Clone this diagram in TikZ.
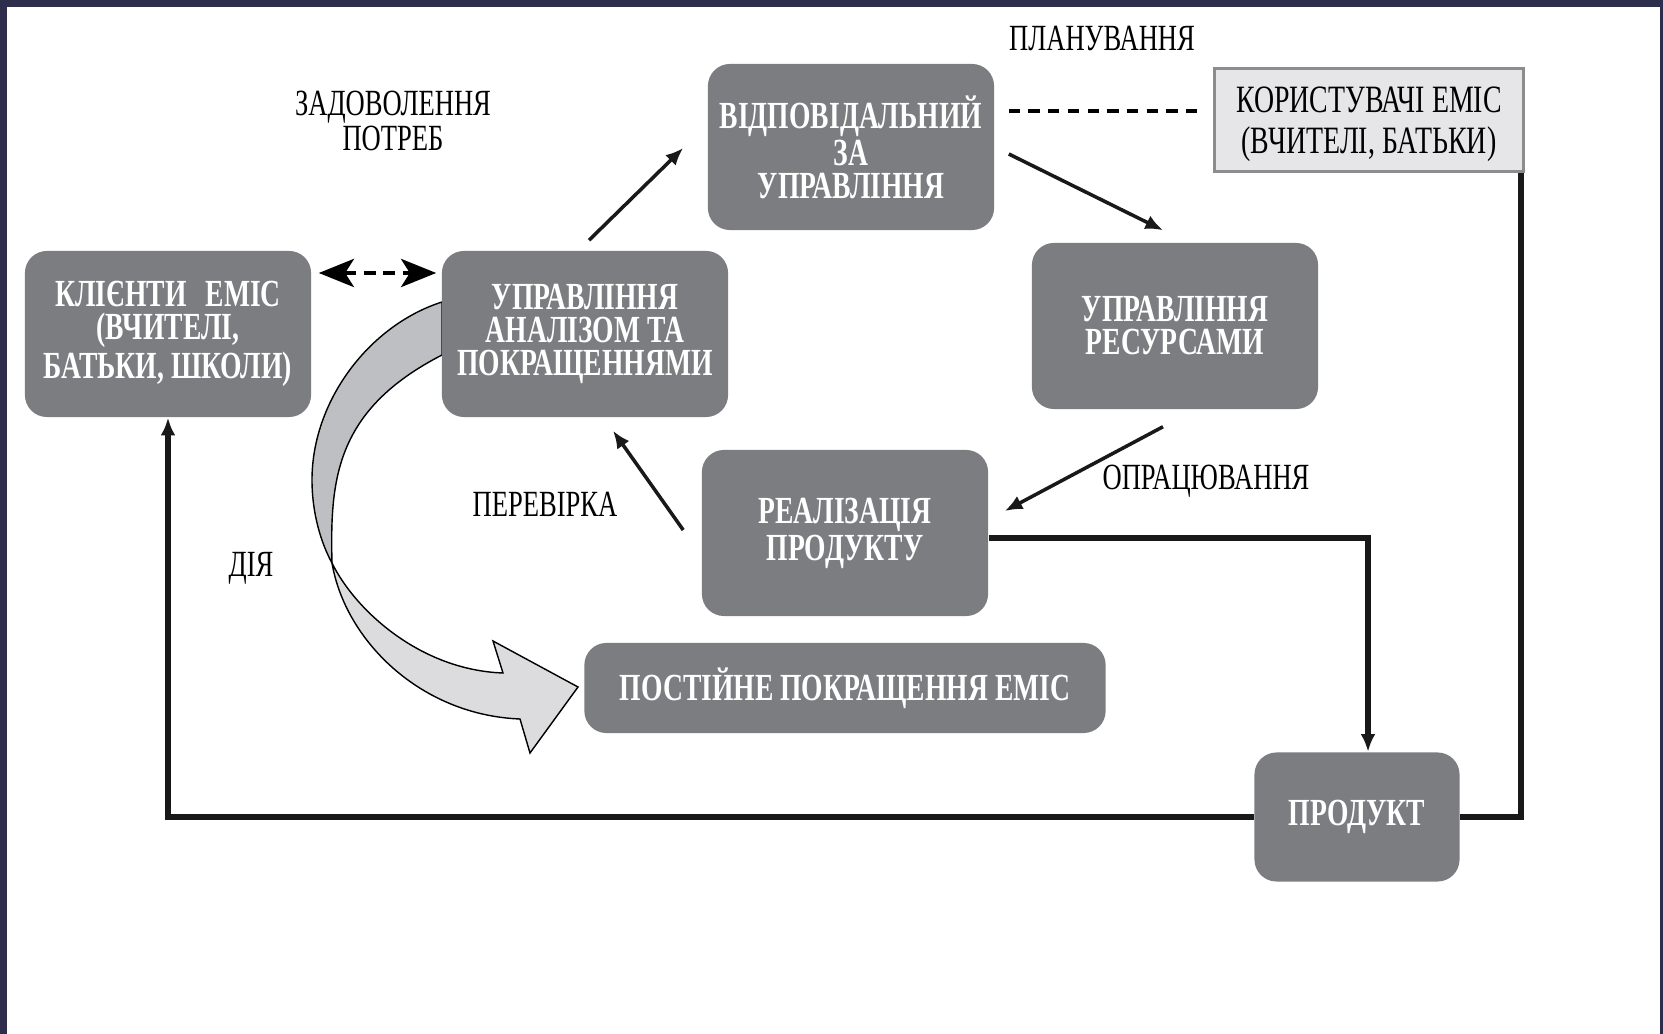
\documentclass[tikz,border=0pt]{standalone}
\usepackage{fontspec}
\setmainfont{Liberation Serif}[FakeStretch=0.72]
\usetikzlibrary{arrows.meta}
\definecolor{boxgray}{HTML}{7B7D80}
\definecolor{framenavy}{HTML}{2E2D4C}
\definecolor{bandback}{HTML}{BEBFC2}
\definecolor{bandfront}{HTML}{DCDCDE}
\definecolor{usergray}{HTML}{E6E6E8}
\begin{document}
\begin{tikzpicture}[x=0.01cm,y=-0.01cm,>={Latex[length=5pt,width=4.2pt]},
  blk/.style={rectangle,rounded corners=0.22cm,fill=boxgray,text=white,align=center,inner sep=0pt,
    font=\bfseries\fontsize{10.9}{9.4}\selectfont,minimum width=2.86cm,minimum height=1.66cm},
  lbl/.style={align=center,font=\fontsize{10.5}{10.2}\selectfont},
  link/.style={line width=1pt,black!90},
  feed/.style={line width=1.5pt,black!90}]
\fill[framenavy] (0,0) rectangle (1663,1034);
\fill[white] (7,7) rectangle (1660,1034);
\useasboundingbox (0,0) rectangle (1663,1034);

% curved arrow behind the boxes
\filldraw[fill=bandback,line width=0.4pt]
(442,302) .. controls (370,325) and (312,400) .. (312,480)
          .. controls (312,515) and (322,545) .. (332,563)
          .. controls (330,480) and (335,410) .. (442,355) -- cycle;
\filldraw[fill=bandfront,line width=0.4pt]
(332,563) .. controls (355,610) and (420,670) .. (503,673)
 -- (493,641) -- (578,687) -- (530,753) -- (520,719)
          .. controls (420,715) and (345,640) .. (332,563) -- cycle;

\path
(168,334)  node[blk] (client) {КЛІЄНТИ\enspace ЕМІС\\(ВЧИТЕЛІ,\\БАТЬКИ, ШКОЛИ)}
(585,334)  node[blk] (anal) {УПРАВЛІННЯ\\АНАЛІЗОМ ТА\\ПОКРАЩЕННЯМИ}
(851,147)  node[blk] (resp) {ВІДПОВІДАЛЬНИЙ\\ЗА\\УПРАВЛІННЯ}
(1175,326) node[blk] (res) {УПРАВЛІННЯ\\РЕСУРСАМИ}
(845,533)  node[blk] (real) {РЕАЛІЗАЦІЯ\\ПРОДУКТУ}
(845,688)  node[blk,minimum width=5.21cm,minimum height=0.9cm] (impr) {ПОСТІЙНЕ ПОКРАЩЕННЯ ЕМІС}
(1357,817) node[blk,minimum width=2.05cm,minimum height=1.29cm] (prod) {ПРОДУКТ}
(1369,120) node[draw=black!45,line width=0.8pt,fill=usergray,align=center,inner sep=0pt,
  minimum width=3.09cm,minimum height=1.03cm,font=\fontsize{11}{11.6}\selectfont,
  text depth=0pt] (users)
  {КОРИСТУВАЧІ ЕМІС\\(ВЧИТЕЛІ, БАТЬКИ)}

(393,121)  node[lbl] (lneed) {ЗАДОВОЛЕННЯ\\ПОТРЕБ}
(1102,39)  node[lbl] (lplan) {ПЛАНУВАННЯ}
(545,504)  node[lbl] (lcheck) {ПЕРЕВІРКА}
(251,568)  node[lbl] (lact) {ДІЯ}
(1206,481) node[lbl] (lproc) {ОПРАЦЮВАННЯ};

\draw[link,->] ([shift={(4,-10)}]anal.north) -- ([shift={(-24,1)}]resp.west);
\draw[link,->] ([shift={(14,7)}]resp.east) -- ([shift={(-12,-12)}]res.north);
\draw[link,->] ([shift={(-12,17)}]res.south) -- ([shift={(16,-22)}]real.east);
\draw[link,->] ([shift={(-18,-3)}]real.west) -- ([shift={(28,13)}]anal.south);

\draw[line width=1.1pt,dash pattern=on 3.2pt off 2.4pt] ([shift={(14,-36)}]resp.east) -- ([shift={(-12,-9)}]users.west);
\draw[line width=1.1pt,dash pattern=on 3.4pt off 2.2pt,
  {Stealth[length=10pt,width=8pt,inset=2.5pt]}-{Stealth[length=10pt,width=8pt,inset=2.5pt]}]
  ([shift={(7,-61)}]client.east) -- ([shift={(-5,-61)}]anal.west);

\draw[feed,->] ([shift={(0,5)}]real.east) -| ([shift={(11,0)}]prod.north);
\draw[feed] ([shift={(-4,0)}]users.south east) |- (prod.east);
\draw[feed,->] (prod.west) -| (client.south);
\end{tikzpicture}
\end{document}
